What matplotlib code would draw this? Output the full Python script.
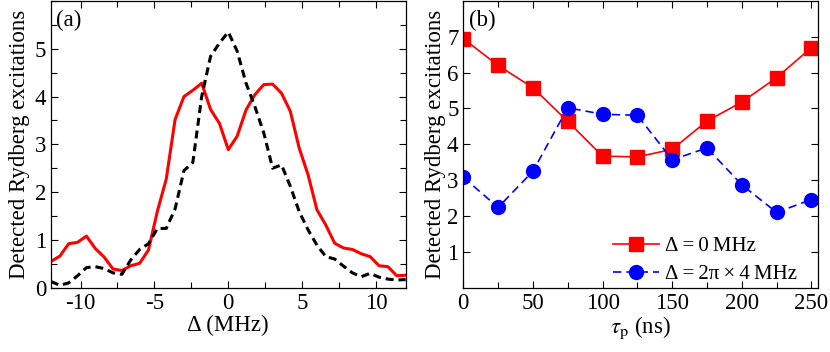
import matplotlib
matplotlib.use("Agg")
import matplotlib.pyplot as plt
from matplotlib.ticker import MultipleLocator

plt.rcParams['font.family'] = ['Liberation Serif', 'DejaVu Serif']
plt.rcParams['mathtext.fontset'] = 'stix'
plt.rcParams['axes.unicode_minus'] = False

# panel (a): detuning scan
detuning = [-12.0, -11.4, -10.8, -10.2, -9.6, -9.0, -8.4, -7.8, -7.2, -6.6,
            -6.0, -5.4, -4.8, -4.2, -3.6, -3.0, -2.4, -1.8, -1.2, -0.6,
            0.0, 0.6, 1.2, 1.8, 2.4, 3.0, 3.6, 4.2, 4.8, 5.4,
            6.0, 6.6, 7.2, 7.8, 8.4, 9.0, 9.6, 10.2, 10.8, 11.4, 12.0]
red_a = [0.55, 0.66, 0.92, 0.95, 1.08, 0.82, 0.64, 0.39, 0.36, 0.46,
         0.51, 0.79, 1.60, 2.27, 3.52, 4.00, 4.13, 4.28, 3.73, 3.44,
         2.89, 3.17, 3.72, 4.04, 4.25, 4.26, 4.07, 3.69, 2.92, 2.36,
         1.63, 1.31, 0.93, 0.83, 0.80, 0.71, 0.65, 0.46, 0.44, 0.25, 0.26]
black_a = [0.13, 0.05, 0.10, 0.25, 0.42, 0.44, 0.40, 0.31, 0.28, 0.58,
           0.80, 0.92, 1.24, 1.24, 1.65, 2.45, 2.62, 4.00, 4.84, 5.12,
           5.35, 4.95, 4.28, 3.79, 3.24, 2.50, 2.57, 2.12, 1.59, 1.21,
           0.89, 0.65, 0.60, 0.45, 0.31, 0.23, 0.30, 0.22, 0.18, 0.16, 0.17]

# panel (b): pulse length scan
tau_p = [0, 25, 50, 75, 100, 125, 150, 175, 200, 225, 250]
res_0 = [6.95, 6.20, 5.58, 4.64, 3.67, 3.65, 3.86, 4.65, 5.18, 5.86, 6.70]
res_4 = [3.08, 2.24, 3.25, 5.02, 4.84, 4.81, 3.57, 3.90, 2.87, 2.10, 2.46]

fig = plt.figure(figsize=(8.3, 3.52), dpi=100)
ax1 = fig.add_axes([0.0614, 0.1827, 0.4273, 0.8145])
ax2 = fig.add_axes([0.5582, 0.1827, 0.4270, 0.8145])

fs = 16.5

ax1.plot(detuning, red_a, color='#ff0000', lw=2.2)
ax1.plot(detuning, black_a, color='black', lw=2.2, ls=(0, (2.6, 1.6)))
ax1.set_xlim(-12, 12)
ax1.set_ylim(0, 6)
ax1.xaxis.set_major_locator(MultipleLocator(5))
ax1.xaxis.set_minor_locator(MultipleLocator(2.5))
ax1.yaxis.set_minor_locator(MultipleLocator(0.5))
ax1.set_yticks([0, 1, 2, 3, 4, 5])
ax1.set_xlabel('Δ (MHz)', fontsize=fs, labelpad=1)
ax1.set_ylabel('Detected Rydberg excitations', fontsize=fs, labelpad=3)
ax1.text(0.015, 0.97, '(a)', transform=ax1.transAxes, fontsize=fs, va='top', ha='left')

ax2.plot(tau_p, res_0, color='#ff0000', lw=1.2, marker='s', ms=9.5,
         label='Δ\u2009=\u20090\u2009MHz')
ax2.plot(tau_p, res_4, color='#0000ff', lw=1.2, ls=(0, (5, 3)), marker='o', ms=10,
         label='Δ\u2009=\u20092π\u2009×\u20094\u2009MHz')
ax2.set_xlim(0, 254.5)
ax2.set_ylim(0, 8)
ax2.xaxis.set_major_locator(MultipleLocator(50))
ax2.xaxis.set_minor_locator(MultipleLocator(25))
ax2.set_yticks([1, 2, 3, 4, 5, 6, 7])
ax2.set_xlabel(r'$\tau_{\rm p}$ (ns)', fontsize=fs, labelpad=1)
ax2.set_ylabel('Detected Rydberg excitations', fontsize=fs, labelpad=1)
ax2.text(0.015, 0.97, '(b)', transform=ax2.transAxes, fontsize=fs, va='top', ha='left')
ax2.legend(loc='lower right', frameon=False, fontsize=15, handlelength=2.2,
           borderaxespad=0.0, labelspacing=0.4, handletextpad=0.3,
           bbox_to_anchor=(0.965, -0.016))

for ax in (ax1, ax2):
    ax.tick_params(which='both', direction='in', top=True, right=True, labelsize=fs)
    ax.tick_params(which='major', length=5, width=0.8)
    ax.tick_params(which='minor', length=4, width=0.8)
    for s in ax.spines.values():
        s.set_linewidth(0.9)

fig.savefig('out.png', dpi=100)
